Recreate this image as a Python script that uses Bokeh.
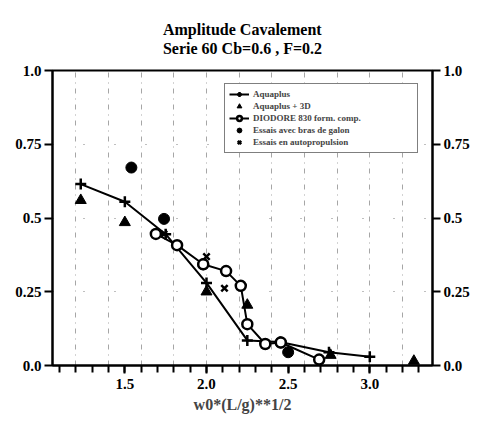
from bokeh.plotting import figure
from bokeh.models import (Range1d, LinearAxis, FixedTicker, Legend, LegendItem, Title)
from bokeh.embed import file_html
from bokeh.resources import INLINE

# ---- data ----
aq_x = [1.23, 1.50, 1.75, 2.00, 2.25, 2.45, 2.75, 3.00]
aq_y = [0.615, 0.555, 0.445, 0.28, 0.085, 0.08, 0.045, 0.03]

aq3d_x = [1.23, 1.50, 2.00, 2.25, 2.76, 3.27]
aq3d_y = [0.56, 0.485, 0.25, 0.205, 0.035, 0.015]

dio_x = [1.69, 1.82, 1.98, 2.12, 2.21, 2.25, 2.36, 2.455, 2.69]
dio_y = [0.446, 0.408, 0.343, 0.32, 0.27, 0.14, 0.073, 0.078, 0.02]

bras_x = [1.54, 1.74, 1.98, 2.455, 2.50]
bras_y = [0.671, 0.497, 0.343, 0.078, 0.045]

auto_x = [1.74, 2.00, 2.11]
auto_y = [0.446, 0.369, 0.262]

x_major = [1.5, 2.0, 2.5, 3.0]
x_minor = [round(1.1 + 0.1 * i, 1) for i in range(24)]
x_grid = [1.2, 1.4, 1.6, 1.8, 2.0, 2.2, 2.4, 2.6, 2.8, 3.0, 3.2]
y_ticks = [0.0, 0.25, 0.5, 0.75, 1.0]
y_labels = {0: "0.0", 0.25: "0.25", 0.5: "0.5", 0.75: "0.75", 1: "1.0"}
x_labels = {1.5: "1.5", 2: "2.0", 2.5: "2.5", 3: "3.0"}

title1 = "Amplitude Cavalement"
title2 = "Serie 60 Cb=0.6 , F=0.2"
x_title = "w0*(L/g)**1/2"
names = ["Aquaplus", "Aquaplus + 3D", "DIODORE 830 form. comp.",
         "Essais avec bras de galon", "Essais en autopropulsion"]

FONT = "Liberation Serif"

p = figure(width=479, height=422, output_backend="svg", toolbar_location=None,
           x_range=Range1d(1.057, 3.384), y_range=Range1d(0, 1),
           min_border_left=52, min_border_right=47, min_border_top=70,
           min_border_bottom=57, title=None)
p.background_fill_color = "white"
p.border_fill_color = "white"
p.outline_line_color = "black"
p.outline_line_width = 2

p.add_layout(Title(text=title1 + "\n" + title2, align="center", text_font=FONT,
                   text_font_size="16px", text_font_style="bold", text_color="black",
                   text_line_height=1.1, standoff=27), "above")

# grids
p.xgrid.ticker = FixedTicker(ticks=x_grid)
p.xgrid.grid_line_color = "black"
p.xgrid.grid_line_alpha = 0.35
p.xgrid.grid_line_dash = "5 5 1 5"
p.ygrid.ticker = FixedTicker(ticks=[0.25, 0.5, 0.75])
p.ygrid.grid_line_color = "black"
p.ygrid.grid_line_alpha = 0.5
p.ygrid.grid_line_dash = "1 30"

# axes
def style_axis(ax):
    ax.axis_line_width = 2
    ax.axis_line_color = "black"
    ax.major_tick_line_width = 2
    ax.minor_tick_line_width = 2
    ax.major_tick_out = 8
    ax.major_tick_in = 0
    ax.major_label_text_font = FONT
    ax.major_label_text_font_size = "15px"
    ax.major_label_text_font_style = "bold"
    ax.major_label_text_color = "black"
    ax.major_label_standoff = 3

xa = p.xaxis[0]
xa.ticker = FixedTicker(ticks=x_major, minor_ticks=x_minor)
xa.major_label_overrides = x_labels
xa.minor_tick_out = 7
xa.minor_tick_in = 0
style_axis(xa)
xa.major_label_standoff = 5
xa.axis_label = x_title
xa.axis_label_text_font = FONT
xa.axis_label_text_font_size = "16px"
xa.axis_label_text_font_style = "bold"
xa.axis_label_standoff = 4

ya = p.yaxis[0]
ya.ticker = FixedTicker(ticks=y_ticks)
ya.major_label_overrides = y_labels
ya.minor_tick_out = 0
style_axis(ya)

yr = LinearAxis(ticker=FixedTicker(ticks=y_ticks))
yr.major_label_overrides = y_labels
yr.minor_tick_out = 0
style_axis(yr)
p.add_layout(yr, "right")

# series
l_aq = p.line(aq_x, aq_y, line_color="black", line_width=2)
m_aq = p.scatter(aq_x, aq_y, marker="cross", size=11, line_color="black", line_width=2.5)

m_3d = p.scatter(aq3d_x, aq3d_y, marker="triangle", size=11, fill_color="black", line_color="black")

l_dio = p.line(dio_x, dio_y, line_color="black", line_width=2)
m_bras = p.scatter(bras_x, bras_y, marker="circle", size=11, fill_color="black", line_color="black")
m_dio = p.scatter(dio_x, dio_y, marker="circle", size=10, fill_color="white", line_color="black",
                  line_width=2.5)
m_auto = p.scatter(auto_x, auto_y, marker="x", size=9, line_color="black", line_width=2.5)

legend = Legend(items=[
    LegendItem(label=names[0], renderers=[l_aq, m_aq]),
    LegendItem(label=names[1], renderers=[m_3d]),
    LegendItem(label=names[2], renderers=[l_dio, m_dio]),
    LegendItem(label=names[3], renderers=[m_bras]),
    LegendItem(label=names[4], renderers=[m_auto]),
], location=(172, 212))
legend.label_text_font = FONT
legend.label_text_font_size = "9px"
legend.label_text_font_style = "bold"
legend.label_height = 12
legend.glyph_height = 12
legend.glyph_width = 20
legend.label_width = 160
legend.label_standoff = 4
legend.spacing = 0
legend.padding = 4
legend.margin = 0
legend.border_line_color = "black"
legend.border_line_width = 1.5
legend.background_fill_color = "white"
legend.background_fill_alpha = 1
p.add_layout(legend, "center")

open("out.html", "w").write(file_html(p, INLINE))
